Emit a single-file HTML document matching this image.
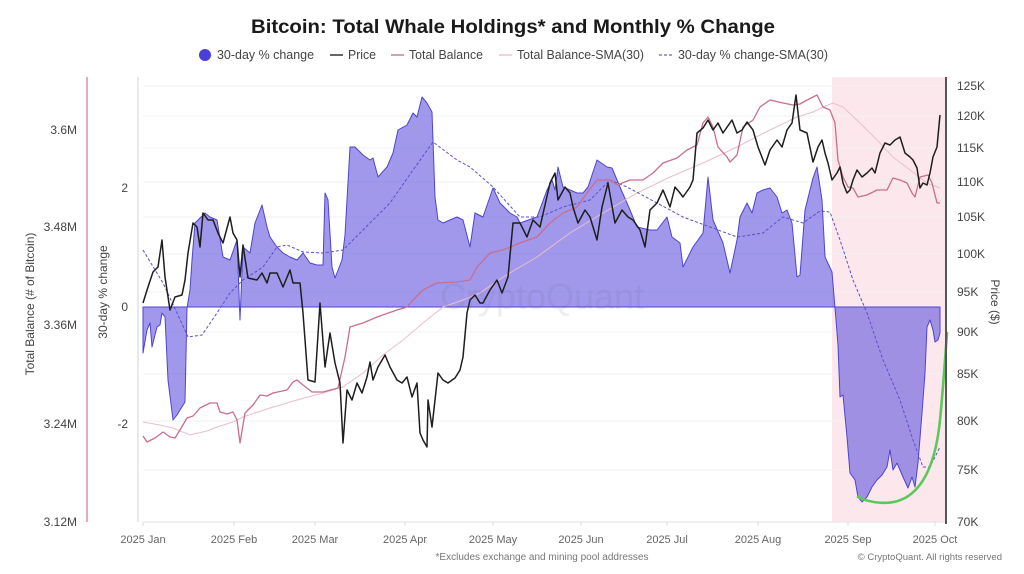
<!DOCTYPE html>
<html><head><meta charset="utf-8"><style>
html,body{margin:0;padding:0;background:#fff;}
svg{display:block;font-family:"Liberation Sans",sans-serif;}
</style></head><body>
<svg width="1024" height="574" viewBox="0 0 1024 574" xmlns="http://www.w3.org/2000/svg">
<rect width="1024" height="574" fill="#fff"/>
<!-- title -->
<text x="513" y="33" text-anchor="middle" font-size="19" font-weight="bold" fill="#1a1a1a" textLength="524" lengthAdjust="spacingAndGlyphs">Bitcoin: Total Whale Holdings* and Monthly % Change</text>
<!-- legend -->
<g font-size="13" fill="#444">
<circle cx="205" cy="55" r="6" fill="#4a3fd8"/>
<text x="217" y="59" textLength="97" lengthAdjust="spacingAndGlyphs">30-day % change</text>
<line x1="330" y1="55" x2="343" y2="55" stroke="#333" stroke-width="1.5"/>
<text x="348" y="59" textLength="28" lengthAdjust="spacingAndGlyphs">Price</text>
<line x1="391" y1="55" x2="404" y2="55" stroke="#cc7d98" stroke-width="1.5"/>
<text x="409" y="59" textLength="74" lengthAdjust="spacingAndGlyphs">Total Balance</text>
<line x1="499" y1="55" x2="512" y2="55" stroke="#eac2cf" stroke-width="1.5"/>
<text x="517" y="59" textLength="127" lengthAdjust="spacingAndGlyphs">Total Balance-SMA(30)</text>
<line x1="659" y1="55" x2="673" y2="55" stroke="#6a62c8" stroke-width="1.2" stroke-dasharray="3,2"/>
<text x="678" y="59" textLength="150" lengthAdjust="spacingAndGlyphs">30-day % change-SMA(30)</text>
</g>
<!-- highlight -->
<rect x="832" y="77" width="114" height="445" fill="#fce8ec"/>
<!-- gridlines -->
<g stroke="#f2f2f4" stroke-width="1">
<line x1="143" y1="86" x2="946" y2="86"/><line x1="143" y1="116" x2="946" y2="116"/>
<line x1="143" y1="148" x2="946" y2="148"/><line x1="143" y1="182" x2="946" y2="182"/>
<line x1="143" y1="217" x2="946" y2="217"/><line x1="143" y1="254" x2="946" y2="254"/>
<line x1="143" y1="292" x2="946" y2="292"/><line x1="143" y1="332" x2="946" y2="332"/>
<line x1="143" y1="374" x2="946" y2="374"/><line x1="143" y1="421" x2="946" y2="421"/>
<line x1="143" y1="470" x2="946" y2="470"/>
</g>
<!-- x axis -->
<line x1="143" y1="522" x2="946" y2="522" stroke="#e2e2e2" stroke-width="1"/>
<g stroke="#ddd"><line x1="143" y1="522" x2="143" y2="526"/><line x1="234" y1="522" x2="234" y2="526"/><line x1="315" y1="522" x2="315" y2="526"/><line x1="405" y1="522" x2="405" y2="526"/><line x1="493" y1="522" x2="493" y2="526"/><line x1="581" y1="522" x2="581" y2="526"/><line x1="667" y1="522" x2="667" y2="526"/><line x1="758" y1="522" x2="758" y2="526"/><line x1="848" y1="522" x2="848" y2="526"/><line x1="935" y1="522" x2="935" y2="526"/></g>
<!-- pct area -->
<polygon fill="#6a5ce0" fill-opacity="0.63" stroke="#4f43cf" stroke-width="1" stroke-linejoin="round" points="143,307 143,353 147,330 150,323 152,347 157,327 160,325 162,313 165,317 168,380 173,420 177,415 180,410 185,402 187,308 190,290 192,260 195,223 200,218 205,213 210,217 217,220 223,257 230,260 237,240 240,320 243,247 250,253 255,223 262,205 267,227 270,237 277,247 283,253 290,257 297,260 303,253 310,263 317,265 323,265 325,193 328,200 332,267 335,278 342,260 345,235 350,147 355,147 363,155 370,160 373,158 378,177 387,167 393,153 398,130 407,125 413,113 417,117 422,97 427,103 432,112 435,197 438,220 443,223 450,220 457,217 463,220 470,247 475,213 483,217 493,188 500,203 510,213 517,217 520,223 537,217 547,190 552,180 555,190 558,167 563,187 570,190 577,193 583,193 588,187 597,160 607,167 612,168 620,187 630,210 637,227 650,230 657,230 667,217 672,237 680,243 683,267 693,247 703,233 708,177 713,220 723,243 730,273 737,240 740,217 747,203 752,213 757,193 763,190 770,188 777,197 782,213 787,210 792,223 797,277 800,275 805,210 810,190 813,178 817,167 822,200 825,257 832,272 835,308 838,345 840,397 843,395 847,437 850,473 855,480 858,497 862,502 867,497 872,487 877,480 882,475 887,467 890,450 893,470 897,463 900,470 903,477 908,488 912,477 915,487 918,463 922,413 925,373 927,327 930,320 933,330 935,342 938,340 940,333 940,307"/>
<!-- balance sma -->
<polyline fill="none" stroke="#e9bfcc" stroke-width="1" points="143,422 160,425 173,428 190,435 207,431 217,427 233,422 243,417 270,408 297,400 323,393 343,387 363,373 383,355 403,340 423,323 443,307 463,300 480,293 503,277 537,257 570,233 603,213 637,193 670,177 703,163 737,147 770,130 797,117 813,112 823,107 833,103 843,107 860,123 877,140 893,157 910,170 927,183 940,188"/>
<!-- pct sma -->
<polyline fill="none" stroke="#5a50c8" stroke-width="1" stroke-dasharray="3,2" points="143,250 163,283 177,313 188,337 202,335 217,313 230,293 243,280 263,267 277,247 287,245 303,252 323,253 343,250 363,230 390,203 413,170 433,142 457,160 470,167 493,187 520,217 540,217 563,207 590,200 610,180 627,187 657,203 683,217 710,227 737,237 763,233 783,217 803,223 820,211 830,212 840,240 853,280 867,313 883,360 900,400 913,440 923,467 930,467 940,447"/>
<!-- total balance -->
<polyline fill="none" stroke="#c86f8e" stroke-width="1.3" stroke-linejoin="round" points="143,436 147,442 155,438 163,432 170,437 175,438 180,430 187,418 193,416 200,408 210,403 217,403 220,412 227,414 233,412 237,420 240,443 245,413 253,405 260,395 267,396 273,393 287,390 293,382 297,380 303,385 312,392 323,392 338,388 345,357 350,327 363,323 377,317 397,310 407,307 413,300 423,290 437,283 457,282 470,280 477,267 490,253 503,250 520,243 537,237 550,223 563,213 577,207 587,193 597,180 610,180 617,185 630,180 643,180 653,173 663,163 677,158 687,150 697,145 703,123 708,117 713,127 718,147 727,157 730,162 737,155 743,127 753,120 760,107 770,100 783,103 793,105 800,104 807,100 817,95 823,107 830,110 835,123 838,160 843,177 848,187 853,188 858,197 867,195 877,190 887,190 893,178 900,180 907,183 912,193 915,197 920,177 928,175 932,183 937,203 940,203"/>
<!-- price -->
<polyline fill="none" stroke="#1e1e1e" stroke-width="1.5" stroke-linejoin="round" points="143,303 148,287 153,272 158,267 162,240 165,277 170,310 175,297 182,295 185,280 188,253 193,223 197,227 200,247 203,213 208,220 213,220 218,233 223,243 230,217 233,233 237,240 240,277 243,245 248,278 257,280 262,273 267,283 270,273 277,273 283,287 290,270 293,283 300,283 303,313 308,380 315,382 320,303 325,367 330,333 335,363 340,383 343,443 347,390 352,400 357,383 362,393 367,377 370,362 373,380 378,367 385,355 390,367 397,380 402,383 407,377 412,397 417,383 420,433 423,440 427,447 428,400 432,427 435,400 438,373 443,380 448,383 455,378 460,370 463,357 467,313 470,300 475,295 480,303 483,303 490,290 497,280 502,293 508,277 513,223 520,223 527,237 533,220 540,227 550,183 555,173 558,200 565,187 570,193 573,207 578,223 585,210 590,217 597,240 602,207 608,183 615,223 622,210 628,217 633,220 640,230 645,247 650,210 657,203 663,190 670,207 675,187 680,193 683,197 690,187 693,180 697,133 703,128 708,120 713,130 718,123 723,133 732,120 737,133 742,130 747,122 753,130 758,147 765,165 770,150 777,140 782,147 787,130 792,123 796,95 800,130 807,133 813,162 818,147 822,140 825,153 828,163 832,180 837,173 840,167 843,183 847,193 850,190 853,180 857,170 862,177 867,173 872,168 875,173 880,153 885,143 890,145 895,140 900,137 905,153 910,157 913,160 917,168 920,188 923,183 927,185 930,173 933,157 937,147 940,115"/>
<!-- green curve -->
<path d="M858,497 C870,503 890,506 905,498 C925,487 936,460 940,420 C943,390 945,360 947,333" fill="none" stroke="#5cc85c" stroke-width="2.6" stroke-linecap="round"/>
<!-- watermark -->
<text x="542" y="309" text-anchor="middle" font-size="36" fill="#6e6e90" fill-opacity="0.12">CryptoQuant</text>
<!-- axes lines -->
<line x1="87" y1="77" x2="87" y2="522" stroke="#c77b8c" stroke-width="1.2"/>
<line x1="138" y1="77" x2="138" y2="522" stroke="#d8d8e6" stroke-width="1.2"/>
<line x1="946" y1="77" x2="946" y2="524" stroke="#555" stroke-width="2"/>
<!-- left labels -->
<g font-size="12" fill="#444" text-anchor="end">
<text x="77" y="134">3.6M</text><text x="77" y="231">3.48M</text><text x="77" y="329">3.36M</text><text x="77" y="428">3.24M</text><text x="77" y="526">3.12M</text>
<text x="128" y="192">2</text><text x="128" y="311">0</text><text x="128" y="428">-2</text>
</g>
<text transform="translate(34,304) rotate(-90)" text-anchor="middle" font-size="12" fill="#444">Total Balance (# of Bitcoin)</text>
<text transform="translate(107,292) rotate(-90)" text-anchor="middle" font-size="12" fill="#444">30-day % change</text>
<text transform="translate(991,302) rotate(90)" text-anchor="middle" font-size="12" fill="#444">Price ($)</text>
<!-- right labels -->
<g font-size="12" fill="#444">
<text x="957" y="90">125K</text><text x="957" y="120">120K</text><text x="957" y="152">115K</text><text x="957" y="186">110K</text><text x="957" y="221">105K</text><text x="957" y="258">100K</text><text x="957" y="296">95K</text><text x="957" y="336">90K</text><text x="957" y="378">85K</text><text x="957" y="425">80K</text><text x="957" y="474">75K</text><text x="957" y="526">70K</text>
</g>
<!-- x labels -->
<g font-size="11" fill="#666" text-anchor="middle">
<text x="143" y="543">2025 Jan</text><text x="234" y="543">2025 Feb</text><text x="315" y="543">2025 Mar</text><text x="405" y="543">2025 Apr</text><text x="493" y="543">2025 May</text><text x="581" y="543">2025 Jun</text><text x="667" y="543">2025 Jul</text><text x="758" y="543">2025 Aug</text><text x="848" y="543">2025 Sep</text><text x="935" y="543">2025 Oct</text>
</g>
<text x="542" y="560" text-anchor="middle" font-size="10" fill="#777">*Excludes exchange and mining pool addresses</text>
<text x="1002" y="560" text-anchor="end" font-size="9.5" fill="#777">© CryptoQuant. All rights reserved</text>
</svg>
</body></html>
